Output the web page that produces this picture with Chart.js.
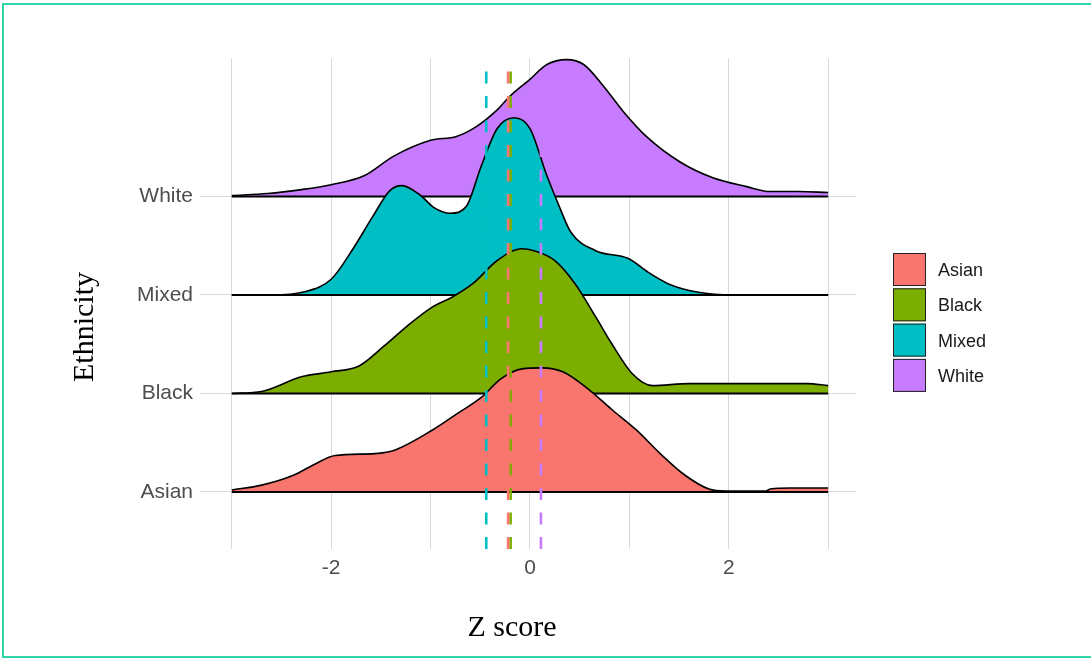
<!DOCTYPE html>
<html>
<head>
<meta charset="utf-8">
<script src="https://cdn.jsdelivr.net/npm/chart.js"></script>
<style>
  html, body { margin: 0; padding: 0; background: #fff; }
  .wrap { position: relative; width: 1091px; height: 660px; overflow: hidden; }
  .frame {
    position: absolute; left: 2px; top: 3px; right: -6px; bottom: 2px;
    border: 2px solid #2fd6a8; pointer-events: none;
  }
</style>
</head>
<body>
<div class="wrap">
  <canvas id="ridges"></canvas>
  <div class="frame"></div>
</div>
<script>
// groups, bottom row first
const categories = ["Asian", "Black", "Mixed", "White"];
const colors = ["#F8766D", "#7CAE00", "#00BFC4", "#C77CFF"];

// ridge heights [z, height in rows] for each group
const asianDensity = [
  [-3, 0.02], [-2.7, 0.07], [-2.38, 0.17], [-2.17, 0.28], [-1.96, 0.37],
  [-1.56, 0.39], [-1.35, 0.43], [-0.98, 0.63], [-0.74, 0.79], [-0.49, 0.96],
  [-0.29, 1.15], [-0.08, 1.25], [0.12, 1.26], [0.33, 1.22], [0.58, 1.05],
  [0.82, 0.84], [1.07, 0.63], [1.31, 0.39], [1.56, 0.17], [1.8, 0.03],
  [1.97, 0.01], [2.37, 0.01], [2.42, 0.03], [2.62, 0.04], [3, 0.04],
];
const blackDensity = [
  [-3, 0], [-2.7, 0.02], [-2.3, 0.17], [-2, 0.22], [-1.72, 0.28],
  [-1.47, 0.48], [-1.23, 0.69], [-0.98, 0.88], [-0.78, 0.98], [-0.57, 1.12],
  [-0.33, 1.35], [-0.08, 1.47], [0.04, 1.45], [0.25, 1.35], [0.45, 1.12],
  [0.66, 0.78], [0.82, 0.51], [1.03, 0.2], [1.23, 0.08], [1.6, 0.1],
  [2.79, 0.1], [3, 0.08],
];
const mixedDensity = [
  [-3, 0], [-2.6, 0], [-2.28, 0.03], [-2, 0.16], [-1.78, 0.47],
  [-1.58, 0.8], [-1.41, 1.06], [-1.29, 1.11], [-1.1, 1.01], [-0.97, 0.89],
  [-0.8, 0.83], [-0.64, 0.9], [-0.49, 1.31], [-0.33, 1.69], [-0.16, 1.8],
  [0, 1.69], [0.17, 1.21], [0.29, 0.91], [0.41, 0.64], [0.66, 0.45],
  [0.99, 0.37], [1.19, 0.23], [1.4, 0.11], [1.68, 0.03], [2.05, 0], [3, 0],
];
const whiteDensity = [
  [-3, 0.01], [-2.64, 0.03], [-2.3, 0.07], [-2, 0.12], [-1.67, 0.21],
  [-1.37, 0.41], [-1, 0.57], [-0.74, 0.61], [-0.54, 0.71], [-0.33, 0.88],
  [-0.2, 1.02], [0, 1.19], [0.17, 1.34], [0.37, 1.39], [0.54, 1.34],
  [0.74, 1.12], [0.94, 0.86], [1.17, 0.61], [1.51, 0.35], [1.84, 0.19],
  [2.18, 0.1], [2.41, 0.05], [2.7, 0.05], [3, 0.04],
];
const densities = [asianDensity, blackDensity, mixedDensity, whiteDensity];

// group means (dashed lines)
const groupMeans = [-0.22, -0.195, -0.44, 0.11];

const zTicks = [-3, -2, -1, 0, 1, 2, 3];
const zRange = [-3, 3];
const yMin = 0.4213;
const yMax = 5.406;
const meanTop = 5.27;

const datasets = [];

// dashed mean lines on top of everything
categories.forEach((name, i) => {
  datasets.push({
    label: name + " mean",
    data: [{ x: groupMeans[i], y: yMin }, { x: groupMeans[i], y: meanTop }],
    borderColor: colors[i],
    borderWidth: 2.6,
    borderDash: [12, 12.5],
    borderCapStyle: "butt",
    pointRadius: 0,
    fill: false,
    order: 0,
  });
});

// ridges: lower rows drawn over upper rows
categories.forEach((name, i) => {
  const base = i + 1;
  datasets.push({
    label: name,
    data: densities[i].map(([z, h]) => ({ x: z, y: base + h })),
    backgroundColor: colors[i],
    borderColor: "#000",
    borderWidth: 1.6,
    pointRadius: 0,
    cubicInterpolationMode: "monotone",
    fill: { value: base },
    order: 10 + i * 2,
  });
  datasets.push({
    label: name + " base",
    data: [{ x: zRange[0], y: base }, { x: zRange[1], y: base }],
    borderColor: "#000",
    borderWidth: 1.8,
    pointRadius: 0,
    fill: false,
    order: 9 + i * 2,
  });
});

// legend keys and axis titles
const extras = {
  id: "extras",
  afterDraw(chart) {
    const ctx = chart.ctx;
    ctx.save();
    ctx.fillStyle = "#000";
    ctx.font = '30px "Liberation Serif", "Times New Roman", serif';
    ctx.textAlign = "center";
    ctx.textBaseline = "middle";
    ctx.fillText("Z score", 512, 628);
    ctx.translate(85, 327);
    ctx.rotate(-Math.PI / 2);
    ctx.fillText("Ethnicity", 0, 0);
    ctx.restore();

    ctx.save();
    ctx.font = '18px "Liberation Sans", Arial, sans-serif';
    ctx.textAlign = "left";
    ctx.textBaseline = "middle";
    categories.forEach((name, i) => {
      const top = 253 + i * 35.3;
      ctx.fillStyle = colors[i];
      ctx.fillRect(893, top, 33, 33);
      ctx.strokeStyle = "#222";
      ctx.lineWidth = 1;
      ctx.strokeRect(893.5, top + 0.5, 32, 32);
      ctx.fillStyle = "#1a1a1a";
      ctx.fillText(name, 938, top + 18);
    });
    ctx.restore();
  },
};

const ctx = document.getElementById("ridges");

new Chart(ctx, {
  type: "line",
  data: { datasets: datasets },
  plugins: [extras],
  options: {
    responsive: true,
    maintainAspectRatio: false,
    animation: false,
    layout: { padding: { top: 58, right: 235, bottom: 0, left: 0 } },
    scales: {
      x: {
        type: "linear",
        min: -3.32,
        max: 3.28,
        afterBuildTicks: (axis) => {
          axis.ticks = zTicks.map((v) => ({ value: v }));
        },
        afterFit: (axis) => {
          axis.height = 111;
        },
        ticks: {
          padding: 7,
          color: "#4d4d4d",
          font: { family: '"Liberation Sans", Arial, sans-serif', size: 21 },
          callback: (v) => (v % 2 === 0 ? String(v) : ""),
        },
        grid: { color: "#d9d9d9", lineWidth: 1, drawTicks: false },
        border: { display: false },
      },
      y: {
        type: "linear",
        min: yMin,
        max: yMax,
        afterBuildTicks: (axis) => {
          axis.ticks = categories.map((c, i) => ({ value: i + 1 }));
        },
        afterFit: (axis) => {
          axis.width = 200;
        },
        ticks: {
          padding: 7,
          color: "#4d4d4d",
          font: { family: '"Liberation Sans", Arial, sans-serif', size: 21 },
          callback: (v) => categories[v - 1] || "",
        },
        grid: { color: "#d9d9d9", lineWidth: 1, drawTicks: false },
        border: { display: false },
      },
    },
    plugins: {
      legend: { display: false },
      tooltip: { enabled: false },
    },
  },
});
</script>
</body>
</html>
